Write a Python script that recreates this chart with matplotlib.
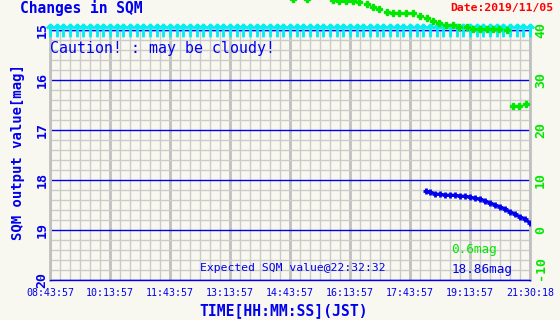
import matplotlib.pyplot as plt
from matplotlib.ticker import MultipleLocator

plt.rcParams["axes.unicode_minus"] = False
plt.rcParams["font.family"] = ["DejaVu Sans Mono", "DejaVu Sans"]

BG = "#f8f8f0"
BLUE = "#0000ee"
GREEN = "#00e800"
CYAN = "#00f0f0"
GRID = "#cbcbcb"

# x axis is hours after 08:43:57
time_ticks = [0, 1.5, 3, 4.5, 6, 7.5, 9, 10.5, 12]
time_labels = ["08:43:57", "10:13:57", "11:43:57", "13:13:57", "14:43:57",
               "16:13:57", "17:43:57", "19:13:57", "21:30:18"]

# SQM readings (left axis, mag)
sqm_hours = [9.40, 9.50, 9.625, 9.75, 9.875, 10.0, 10.125, 10.25, 10.375, 10.5,
             10.625, 10.75, 10.875, 11.0, 11.125, 11.25, 11.375, 11.5, 11.625,
             11.75, 11.875, 12.0]
sqm_mag = [18.22, 18.24, 18.28, 18.28, 18.30, 18.30, 18.30, 18.32, 18.32, 18.34,
           18.36, 18.38, 18.42, 18.46, 18.50, 18.54, 18.58, 18.64, 18.68,
           18.74, 18.78, 18.86]

# green series (right axis), values above 40 run off the top
green_hours = [6.08, 6.42, 7.08, 7.22, 7.40, 7.58, 7.72, 7.92, 8.08, 8.22, 8.42,
               8.58, 8.72, 8.90, 9.08, 9.25, 9.42, 9.58, 9.72, 9.90, 10.08,
               10.22, 10.42, 10.58, 10.75, 10.92, 11.08, 11.22, 11.42,
               11.58, 11.72, 11.90]
green_vals = [46.2, 46.2, 46.0, 45.8, 45.8, 45.8, 45.6, 45.2, 44.6, 44.2, 43.6,
              43.4, 43.4, 43.4, 43.4, 42.8, 42.4, 41.8, 41.4, 41.0, 41.0,
              40.6, 40.6, 40.2, 40.2, 40.2, 40.2, 40.2, 40.0,
              24.8, 24.8, 25.2]

# cloud flag samples (minutes after start), all pinned at the top
cloud_min = [0, 10, 20, 30, 40, 50, 60, 70, 80, 90, 100, 110, 120, 130, 140,
             150, 160, 170, 180, 190, 200, 210, 220, 230, 240, 250, 260, 270,
             280, 290, 300, 310, 320, 330, 340, 350, 360, 370, 380, 390, 400,
             410, 420, 430, 440, 450, 460, 470, 480, 490, 500, 510, 520, 530,
             540, 550, 560, 570, 580, 590, 600, 610, 620, 630, 640, 650, 660,
             670, 680, 690, 700, 710, 720]

fig = plt.figure(figsize=(5.6, 3.2), dpi=100, facecolor=BG)
ax = fig.add_axes([50 / 560, 40 / 320, 480 / 560, 250 / 320])
ax.set_facecolor(BG)
ax.set_xlim(0, 12)
ax.set_ylim(20, 15)

ax.xaxis.set_minor_locator(MultipleLocator(0.25))
ax.yaxis.set_minor_locator(MultipleLocator(0.2))
ax.grid(which="minor", color=GRID, lw=1)
ax.grid(axis="x", which="major", color="#c0c0c0", lw=2)
ax.grid(axis="y", which="major", color=BLUE, lw=1)
ax.set_axisbelow(True)

ax.set_xticks(time_ticks)
ax.set_xticklabels(time_labels, fontsize=7.2, color=BLUE)
ax.set_yticks([15, 16, 17, 18, 19, 20])
ax.set_yticklabels(["15", "16", "17", "18", "19", "20"], fontsize=9.5,
                   color=BLUE, fontweight="bold", rotation=90, va="center")
ax.tick_params(which="both", length=0)
ax.tick_params(axis="x", pad=6)
ax.tick_params(axis="y", pad=1)
for side in ["left", "right"]:
    ax.spines[side].set_color("#c0c0c0")
    ax.spines[side].set_linewidth(2)
for side in ["top", "bottom"]:
    ax.spines[side].set_color(BLUE)
    ax.spines[side].set_linewidth(1)

ax.plot(sqm_hours, sqm_mag, color=BLUE, lw=2, marker="+", ms=5, mew=2, zorder=5)
ax.plot([m / 60 for m in cloud_min], [15] * len(cloud_min), ls="none",
        marker=r"$\uparrow$", ms=9, color=CYAN, clip_on=False, zorder=6)

ax2 = ax.twinx()
ax2.set_ylim(-10, 40)
ax2.patch.set_visible(False)
ax2.set_yticks([-10, 0, 10, 20, 30, 40])
ax2.set_yticklabels(["-10", "0", "10", "20", "30", "40"], fontsize=9.5,
                    color=GREEN, fontweight="bold", rotation=90, va="center")
ax2.get_yticklabels()[0].set_va("bottom")
ax2.tick_params(length=0, pad=3)
for s in ax2.spines.values():
    s.set_visible(False)
ax2.plot(green_hours, green_vals, ls="none", marker="P", ms=5, color=GREEN,
         clip_on=False, zorder=7)


def put(x, y, s, **kw):
    fig.text(x / 560, 1 - y / 320, s, va="center", **kw)


put(20, 8, "Changes in SQM", fontsize=10.5, color=BLUE, fontweight="bold")
put(450, 8, "Date:2019/11/05", fontsize=8.2, color="red", fontweight="bold")
put(50, 48, "Caution! : may be cloudy!", fontsize=10.7, color=BLUE)
put(200, 268, "Expected SQM value@22:32:32", fontsize=8.2, color=BLUE)
put(452, 269, "18.86mag", fontsize=9.1, color=BLUE)
put(451, 249, "0.6mag", fontsize=9.2, color=GREEN)
put(284, 311, "TIME[HH:MM:SS](JST)", fontsize=10.6, color=BLUE,
    fontweight="bold", ha="center")
put(18, 152, "SQM output value[mag]", fontsize=10, color=BLUE,
    fontweight="bold", ha="center", rotation=90)

fig.savefig("out.png", dpi=100, facecolor=BG)
